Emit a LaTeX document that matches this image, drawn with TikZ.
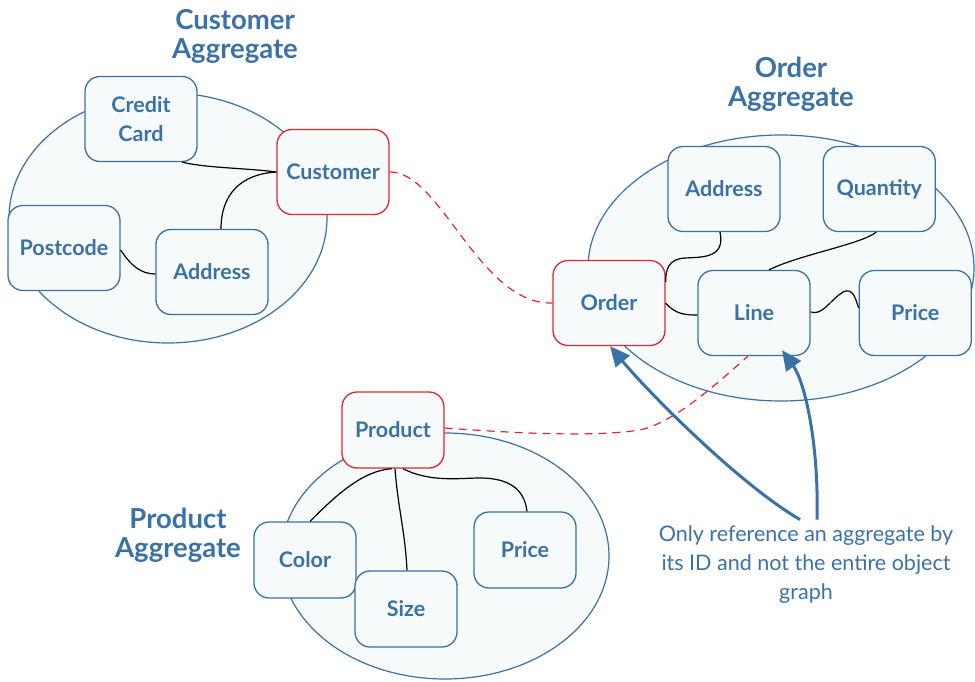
\documentclass[tikz,border=0pt]{standalone}
\usepackage{fontspec}
\setmainfont{Lato}
\usetikzlibrary{positioning,arrows.meta}
\definecolor{ink}{RGB}{58,114,165}
\definecolor{redink}{RGB}{230,38,46}
\definecolor{paper}{RGB}{247,250,250}

\begin{document}
\begin{tikzpicture}[x=1pt,y=-1pt,
  every node/.style={font=\fontsize{21.5}{29}\selectfont\bfseries,text=ink},
  entity/.style={draw=ink,line width=1.3pt,rounded corners=15pt,fill=paper,minimum width=112pt,minimum height=85pt,align=center,inner sep=2pt},
  root/.style={entity,draw=redink},
  small/.style={minimum width=102pt,minimum height=76pt},
  group/.style={draw=ink,line width=1.2pt,fill=paper},
  title/.style={font=\fontsize{27.5}{29}\selectfont\bfseries,align=center},
  link/.style={line width=1.2pt,draw=black},
  idref/.style={line width=1.2pt,draw=redink,dash pattern=on 8pt off 6pt},
  arrow/.style={-{Triangle[length=20pt,width=18pt]},line width=3pt,draw=ink}
]
\useasboundingbox (0,0) rectangle (975,682);

\draw[group] (168,218) ellipse [x radius=159,y radius=125];
\draw[group] (781,268) ellipse [x radius=193,y radius=133];
\draw[group] (445,556) ellipse [x radius=164,y radius=123];

\node[title] (ctitle) at (235,36) {Customer\\Aggregate};
\node[title] (otitle) at (791,84) {Order\\Aggregate};
\node[title] (ptitle) at (178,535) {Product\\Aggregate};

\node[root] (cust) at (333,172) {Customer};
\node[entity] (card) at (141,119) {Credit\\Card};
\node[entity] (post) at (64,248) {Postcode};
\node[entity] (caddr) at (212,272) {Address};

\node[root] (order) at (609,303) {Order};
\node[entity] (oaddr) at (724,189) {Address};
\node[entity,right=42pt of oaddr] (qty) {Quantity};
\node[entity] (line) at (754,313) {Line};
\node[entity,right=48pt of line] (oprice) {Price};

\node[root,small] (prod) at (393,430) {Product};
\node[entity,small] (color) at (305,560) {Color};
\node[entity,small] (size) at (406,609) {Size};
\node[entity,small] (pprice) at (525,550) {Price};

\node[font=\fontsize{21.5}{29}\selectfont,align=center] (note) at (806,565)
  {Only reference an aggregate by\\its ID and not the entire object\\graph};

\draw[link] ([xshift=41pt]card.south) .. controls +(25,6) and +(-30,-4) .. (cust.west);
\draw[link] (cust.west) .. controls +(-35,2) and +(0,-35) .. ([xshift=9pt]caddr.north);
\draw[link] ([yshift=-2pt]post.east) .. controls +(10,15) and +(-15,0) .. ([yshift=-2pt]caddr.west);

\draw[link] ([xshift=-4pt]oaddr.south) .. controls +(6,27) and +(15,-1) .. (685,258)
  .. controls +(-17,1) and +(0,-12) .. ([yshift=21pt]order.east);
\draw[link] ([xshift=-3pt]qty.south) .. controls +(-15,12) and +(30,-15) .. ([xshift=15pt]line.north);
\draw[link] (order.east) .. controls +(10,12) and +(-10,0) .. ([yshift=-2pt]line.west);
\draw[link] ([yshift=1pt]line.east) .. controls +(12,4) and +(-13,8) .. (843,292)
  .. controls +(10,-5) and +(-3,-9) .. ([yshift=5pt]oprice.west);

\draw[link] ([xshift=-1pt]prod.south) .. controls +(-30,2) and +(25,-25) .. ([xshift=5pt]color.north);
\draw[link] ([xshift=2pt]prod.south) .. controls +(3,40) and +(-2,-40) .. ([xshift=1pt]size.north);
\draw[link] ([xshift=10pt]prod.south) .. controls +(27,14) and +(-20,0) .. (480,478)
  .. controls +(35,0) and +(-2,-17) .. ([xshift=2pt]pprice.north);

\draw[idref] (cust.east) .. controls +(51,-1) and +(-73,2) .. (order.west);
\draw[idref] ([yshift=2pt]prod.east) .. controls +(96,7) and +(-40,6) .. (640,430)
  .. controls +(35,-8) and +(-33,29) .. ([xshift=-6pt]line.south);

\draw[arrow] ([xshift=-6pt,yshift=3pt]note.north) .. controls +(-60,-35) and +(40,48) .. ([xshift=1pt]order.south);
\draw[arrow] ([xshift=11pt,yshift=3pt]note.north) .. controls +(2,-75) and +(23,32) .. ([xshift=28pt,yshift=6pt]line.south);
\end{tikzpicture}
\end{document}
